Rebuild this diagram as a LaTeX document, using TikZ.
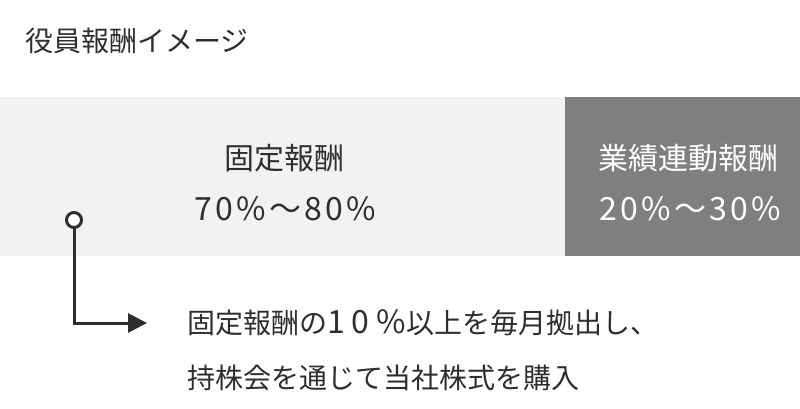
\documentclass[tikz,border=0pt]{standalone}
\usepackage{fontspec}
\setmainfont{Noto Sans CJK JP}
% wide spaced figures
\newcommand\nums[1]{{\fontsize{32}{32}\selectfont\addfontfeature{LetterSpace=22}#1}}
\usetikzlibrary{arrows.meta}
\definecolor{inkgray}{HTML}{2E2E2E}
\definecolor{fixedgray}{HTML}{F2F2F2}
\definecolor{bonusgray}{HTML}{7F7F7F}
\tikzset{
  txt/.style={inner sep=0pt, text=inkgray, font=\fontsize{28}{32}\selectfont},
  bigtxt/.style={txt, font=\fontsize{30}{34}\selectfont},
  pcttxt/.style={txt, font=\fontsize{32}{34}\selectfont\addfontfeature{LetterSpace=10}},
  leader/.style={draw=inkgray, line width=3pt},
}
\begin{document}
\begin{tikzpicture}[x=1pt,y=-1pt]
                \def\top{97}
                \def\bot{256}
                \useasboundingbox (0,0) rectangle (800,409);
                \fill[white] (0,0) rectangle (800,409);

                % Title
                \node[txt, anchor=west] (title) at (25,41) {役員報酬イメージ};

                % Fixed part of the bar
                \fill[fixedgray] (0,\top) rectangle (565,\bot);
                \node[bigtxt] (fixed) at (284,158) {固定報酬};
                \node[pcttxt] (fixedpct) at (285,209) {70\%～80\%};

                % Performance part of the bar
                \fill[bonusgray] (565,\top) rectangle (800,\bot);
                \node[bigtxt, text=white] (bonus) at (688,158) {業績連動報酬};
                \node[pcttxt, text=white] (bonuspct) at (690,209) {20\%～30\%};

                % Note with leader arrow
                \node[leader, circle, fill=white, minimum size=15pt, inner sep=0pt] (dot) at (74,220) {};
                \coordinate (tip) at (147,323);
                \draw[leader, -{Triangle[length=19pt, width=19pt]}] (dot.south) |- (tip);
                \node[txt, anchor=west] (note1) at (187,323) {固定報酬の\nums{10\%}以上を毎月拠出し、};
                \node[txt, anchor=west] (note2) at (187,378) {持株会を通じて当社株式を購入};

            \end{tikzpicture}
\end{document}
